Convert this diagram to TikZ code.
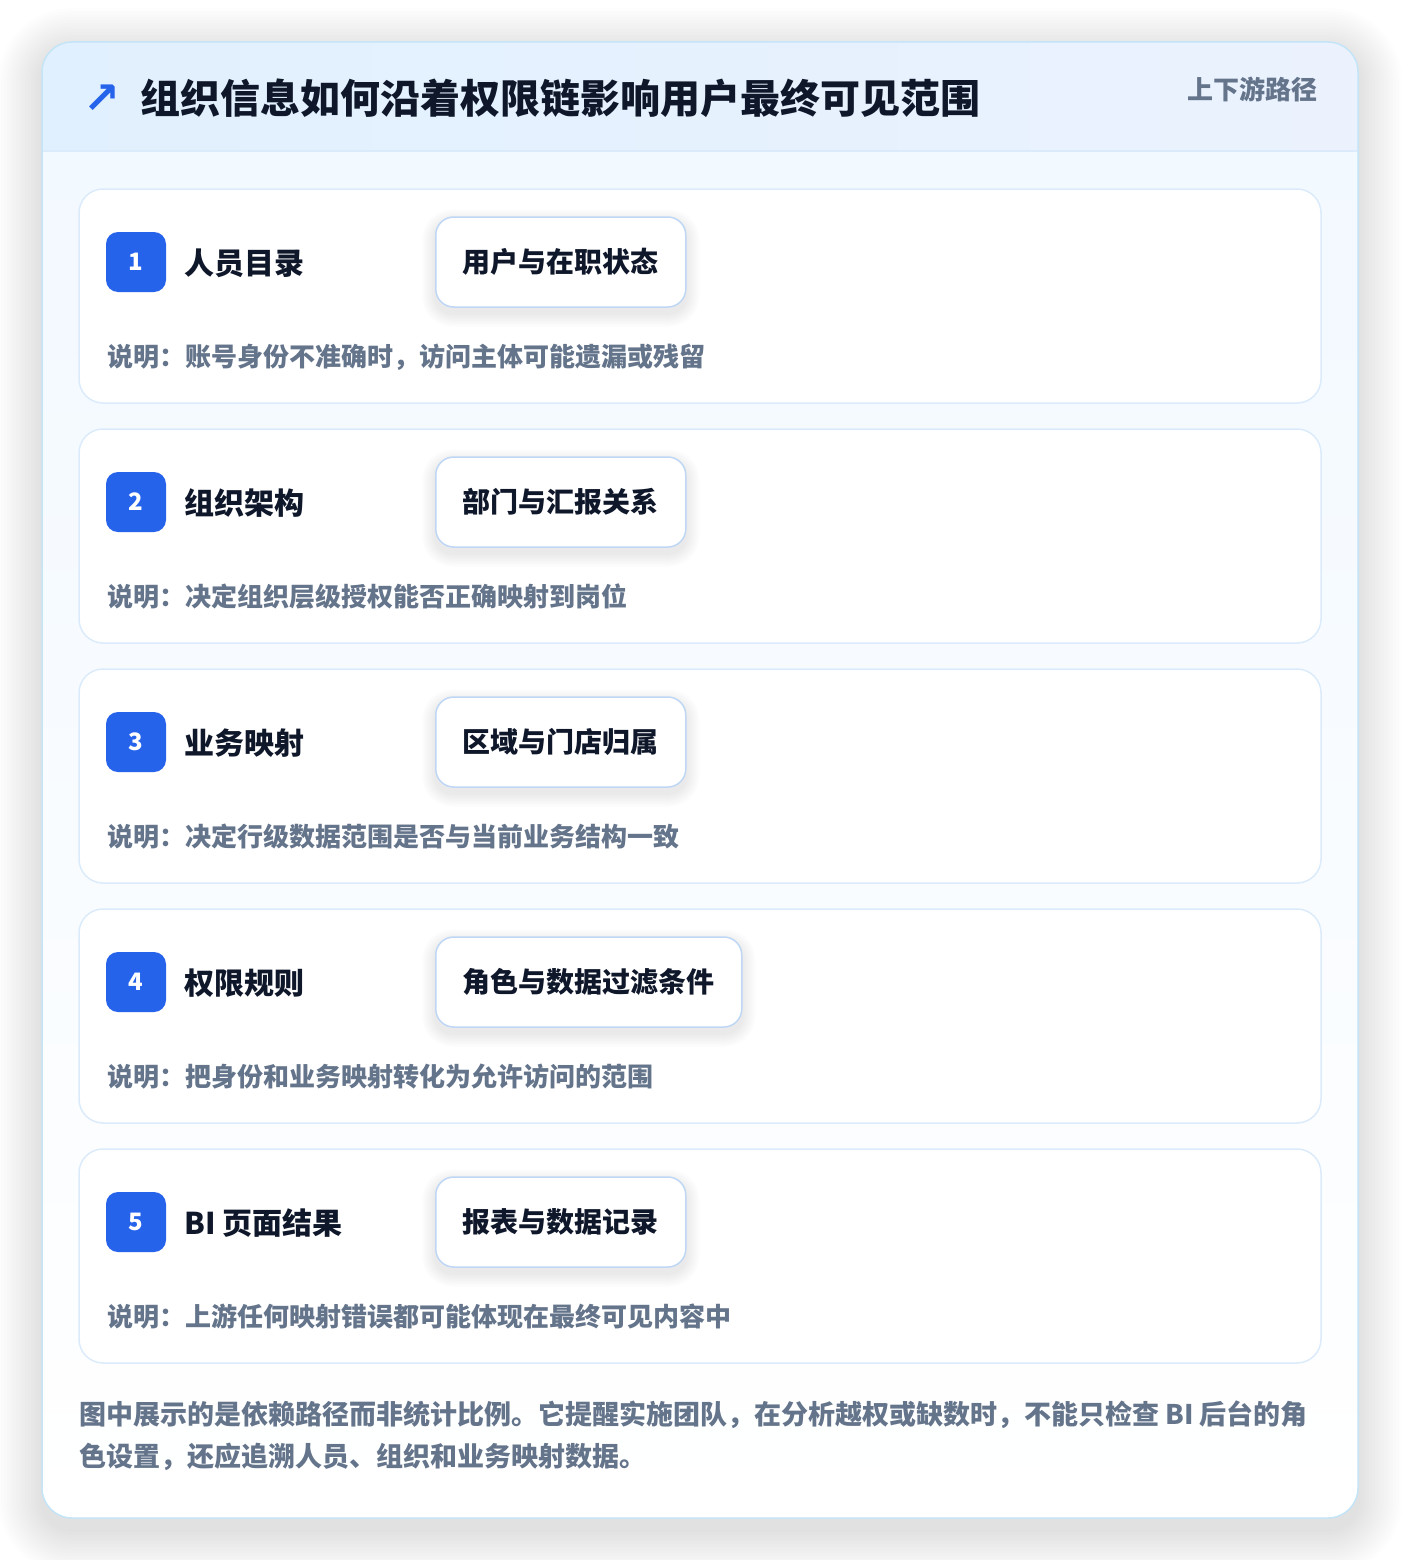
\documentclass[tikz,border=0pt]{standalone}
\usepackage{fontspec}
\setmainfont{Noto Sans CJK SC}
\newfontfamily\symfont{DejaVu Sans}
\usetikzlibrary{positioning}

\definecolor{inkdark}{HTML}{0F172A}
\definecolor{slate}{HTML}{64748B}
\definecolor{brandblue}{HTML}{2563EB}
\definecolor{panelline}{HTML}{C4E4F7}
\definecolor{cardline}{HTML}{DCEBFB}
\definecolor{chipline}{HTML}{BFD7F5}
\definecolor{headleft}{HTML}{E1F0FE}
\definecolor{headright}{HTML}{EBF2FE}
\definecolor{paneltop}{HTML}{F1F8FF}
\definecolor{shadowgray}{HTML}{1E293B}

\pgfdeclarelayer{cards}
\pgfdeclarelayer{shades}
\pgfsetlayers{cards,shades,main}

\tikzset{
  card/.style={draw=cardline, line width=1.5pt, fill=white, rounded corners=24pt},
  badge/.style={fill=brandblue, rounded corners=12pt, minimum size=60pt, inner sep=0pt,
    text=white, font=\fontsize{24}{24}\selectfont\bfseries},
  steptitle/.style={anchor=west, inner sep=0pt, text=inkdark, font=\fontsize{30}{30}\selectfont\bfseries},
  chip/.style={anchor=west, draw=chipline, line width=1.5pt, fill=white, rounded corners=18pt,
    minimum height=90pt, inner xsep=27pt, text=inkdark, font=\fontsize{28}{28}\selectfont\bfseries},
  note/.style={anchor=west, inner sep=0pt, text=slate, font=\fontsize{26}{26}\selectfont\bfseries},
  softshade/.style={fill=shadowgray, fill opacity=#1},
}

% soft shadow under a chip node
\newcommand{\chipshade}[1]{%
  \foreach \r in {1,3,...,13}
    \path[softshade=0.012, rounded corners=18pt+\r pt]
      ([xshift=-\r pt, yshift=-6pt+\r pt]#1.north west) rectangle ([xshift=\r pt, yshift=-6pt-\r pt]#1.south east);
}

\begin{document}
\begin{tikzpicture}[x=1pt,y=-1pt]

            %\draw [help lines] (0,0) grid (1400,1560);
            \useasboundingbox (0,0) rectangle (1400,1560);

            \begin{pgfonlayer}{cards}
            \fill[white] (0,0) rectangle (1400,1560);

            % outer panel with soft shadow
            \foreach \r in {2,5,...,44}
              \path[softshade=0.009, rounded corners=30pt+\r pt] (42-\r,52-\r) rectangle (1358+\r,1530+\r);
            \path[fill=white, rounded corners=30pt] (42,42) rectangle (1358,1518);
            \path[top color=paneltop, bottom color=white, rounded corners=30pt] (42,42) rectangle (1358,1518);
            \begin{scope}
              \clip[rounded corners=30pt] (42,42) rectangle (1358,1518);
              \path[left color=headleft, right color=headright] (42,42) rectangle (1358,151);
            \end{scope}
            \draw[cardline, line width=1.5pt] (42.75,151) -- (1357.25,151);
            \draw[panelline, line width=1.5pt, rounded corners=30pt] (42,42) rectangle (1358,1518);

            % step cards
            \draw[card] (79,189) rectangle (1321,403);
            \draw[card] (79,429) rectangle (1321,643);
            \draw[card] (79,669) rectangle (1321,883);
            \draw[card] (79,909) rectangle (1321,1123);
            \draw[card] (79,1149) rectangle (1321,1363);
            \end{pgfonlayer}

            % header
            \path   (102,99) node (icon) [text=brandblue, inner sep=0pt, font=\symfont\bfseries\fontsize{44}{44}\selectfont] {↗}
                    (140,98) node (title) [anchor=west, inner sep=0pt, text=inkdark, font=\fontsize{40}{40}\selectfont\bfseries] {组织信息如何沿着权限链影响用户最终可见范围}
                    (1318,89) node (tag) [anchor=east, inner sep=0pt, text=slate, font=\fontsize{26}{26}\selectfont\bfseries] {上下游路径};

            \path   (136,262) node (b1) [badge] {1}
                    (184,263) node (t1) [steptitle] {人员目录}
                    (435,262) node (c1) [chip] {用户与在职状态}
                    (107,357) node (n1) [note] {说明：账号身份不准确时，访问主体可能遗漏或残留};

            \path   (136,502) node (b2) [badge] {2}
                    (184,503) node (t2) [steptitle] {组织架构}
                    (435,502) node (c2) [chip] {部门与汇报关系}
                    (107,597) node (n2) [note] {说明：决定组织层级授权能否正确映射到岗位};

            \path   (136,742) node (b3) [badge] {3}
                    (184,743) node (t3) [steptitle] {业务映射}
                    (435,742) node (c3) [chip] {区域与门店归属}
                    (107,837) node (n3) [note] {说明：决定行级数据范围是否与当前业务结构一致};

            \path   (136,982) node (b4) [badge] {4}
                    (184,983) node (t4) [steptitle] {权限规则}
                    (435,982) node (c4) [chip] {角色与数据过滤条件}
                    (107,1077) node (n4) [note] {说明：把身份和业务映射转化为允许访问的范围};

            \path   (136,1222) node (b5) [badge] {5}
                    (184,1223) node (t5) [steptitle] {BI 页面结果}
                    (435,1222) node (c5) [chip] {报表与数据记录}
                    (107,1317) node (n5) [note] {说明：上游任何映射错误都可能体现在最终可见内容中};

            % chip shadows sit between cards and chips
            \begin{pgfonlayer}{shades}
            \chipshade{c1}\chipshade{c2}\chipshade{c3}\chipshade{c4}\chipshade{c5}
            \end{pgfonlayer}

            % footer
            \path   (79,1436) node (foot) [anchor=west, inner sep=0pt, align=left, text=slate,
                    font=\fontsize{27}{42}\selectfont\bfseries]
                    {图中展示的是依赖路径而非统计比例。它提醒实施团队，在分析越权或缺数时，不能只检查 BI 后台的角\\色设置，还应追溯人员、组织和业务映射数据。};

\end{tikzpicture}
\end{document}
